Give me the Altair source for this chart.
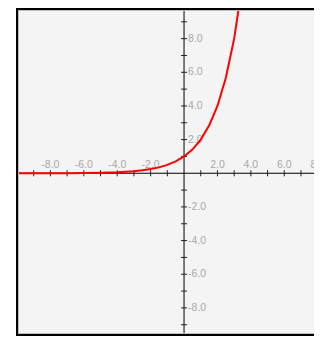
import altair as alt
import pandas as pd

# curve values (y doubles each unit of x)
curve_x = [-10, -9, -8, -7, -6, -5, -4, -3, -2.5, -2, -1.5, -1, -0.5, 0, 0.5, 1, 1.5, 2, 2.5, 3, 3.5]
curve_y = [0.001, 0.002, 0.004, 0.008, 0.016, 0.031, 0.063, 0.125, 0.18, 0.25, 0.35, 0.5, 0.71,
           1.0, 1.41, 2.0, 2.83, 4.0, 5.66, 8.0, 11.3]

x_ticks = [-9, -8, -7, -6, -5, -4, -3, -2, -1, 1, 2, 3, 4, 5, 6, 7]
y_ticks = [-9, -8, -7, -6, -5, -4, -3, -2, -1, 1, 2, 3, 4, 5, 6, 7, 8, 9]
x_labels = [-8, -6, -4, -2, 2, 4, 6, 8]
x_label_text = ["-8.0", "-6.0", "-4.0", "-2.0", "2.0", "4.0", "6.0", "8.0"]
y_labels = [10, 8, 6, 4, 2, -2, -4, -6, -8]
y_label_text = ["10.0", "8.0", "6.0", "4.0", "2.0", "-2.0", "-4.0", "-6.0", "-8.0"]

W, H = 298, 328
xs = alt.Scale(domain=[-10.06, 7.78], nice=False, zero=False)
ys = alt.Scale(domain=[-9.67, 9.82], nice=False, zero=False)
TK = 0.18  # half tick length in data units

curve = pd.DataFrame({"x": curve_x, "y": curve_y})
xt = pd.DataFrame({"x": x_ticks, "y1": [-TK] * len(x_ticks), "y2": [TK] * len(x_ticks)})
yt = pd.DataFrame({"y": y_ticks, "x1": [-TK] * len(y_ticks), "x2": [TK] * len(y_ticks)})
xl = pd.DataFrame({"x": x_labels, "y": [0] * len(x_labels), "t": x_label_text})
yl = pd.DataFrame({"y": y_labels, "x": [0] * len(y_labels), "t": y_label_text})
zero = pd.DataFrame({"v": [0]})

X = lambda f: alt.X(f, type="quantitative", scale=xs, axis=None)
Y = lambda f: alt.Y(f, type="quantitative", scale=ys, axis=None)

xaxis = alt.Chart(zero).mark_rule(color="#000000", strokeWidth=1).encode(
    y=Y("v"), x=alt.value(0), x2=alt.value(W))
yaxis = alt.Chart(zero).mark_rule(color="#000000", strokeWidth=1).encode(
    x=X("v"), y=alt.value(0), y2=alt.value(H))
xtick = alt.Chart(xt).mark_rule(color="#222222", strokeWidth=1).encode(
    x=X("x"), y=Y("y1"), y2="y2")
ytick = alt.Chart(yt).mark_rule(color="#222222", strokeWidth=1).encode(
    y=Y("y"), x=X("x1"), x2="x2")
xlab = alt.Chart(xl).mark_text(align="center", baseline="alphabetic", dy=-5, fontSize=10.5,
                               font="Liberation Sans", color="#a8a8a8").encode(
    x=X("x"), y=Y("y"), text="t:N")
ylab = alt.Chart(yl).mark_text(align="left", baseline="middle", dx=4, fontSize=10.5,
                               font="Liberation Sans", color="#a8a8a8").encode(
    x=X("x"), y=Y("y"), text="t:N")
line = alt.Chart(curve).mark_line(color="#ff0000", strokeWidth=2, clip=True).encode(
    x=X("x"), y=Y("y"))

gray = "#bdbdbd"
f1 = alt.Chart(zero).mark_rule(color="#000000", strokeWidth=2).encode(
    x=alt.value(1), y=alt.value(0), y2=alt.value(H))
f2 = alt.Chart(zero).mark_rule(color="#000000", strokeWidth=2).encode(
    y=alt.value(1), x=alt.value(0), x2=alt.value(W))
f3 = alt.Chart(zero).mark_rule(color="#000000", strokeWidth=2).encode(
    y=alt.value(H - 1), x=alt.value(0), x2=alt.value(W))
g1 = alt.Chart(zero).mark_rule(color=gray, strokeWidth=1).encode(
    x=alt.value(2.5), y=alt.value(2), y2=alt.value(H - 2))
g2 = alt.Chart(zero).mark_rule(color=gray, strokeWidth=1).encode(
    y=alt.value(2.5), x=alt.value(2), x2=alt.value(W))
g3 = alt.Chart(zero).mark_rule(color=gray, strokeWidth=1).encode(
    y=alt.value(H - 2.5), x=alt.value(2), x2=alt.value(W))

chart = alt.layer(xaxis, yaxis, xtick, ytick, xlab, ylab, line, g1, g2, g3, f1, f2, f3).properties(
    width=W, height=H,
    padding={"left": 8, "top": 0, "right": 0, "bottom": 0},
    autosize=alt.AutoSizeParams(type="none"),
    background="#ffffff",
).configure_view(fill="#f4f4f4", stroke=None)

chart.save("out.html", embed_options={"renderer": "svg", "actions": False})
